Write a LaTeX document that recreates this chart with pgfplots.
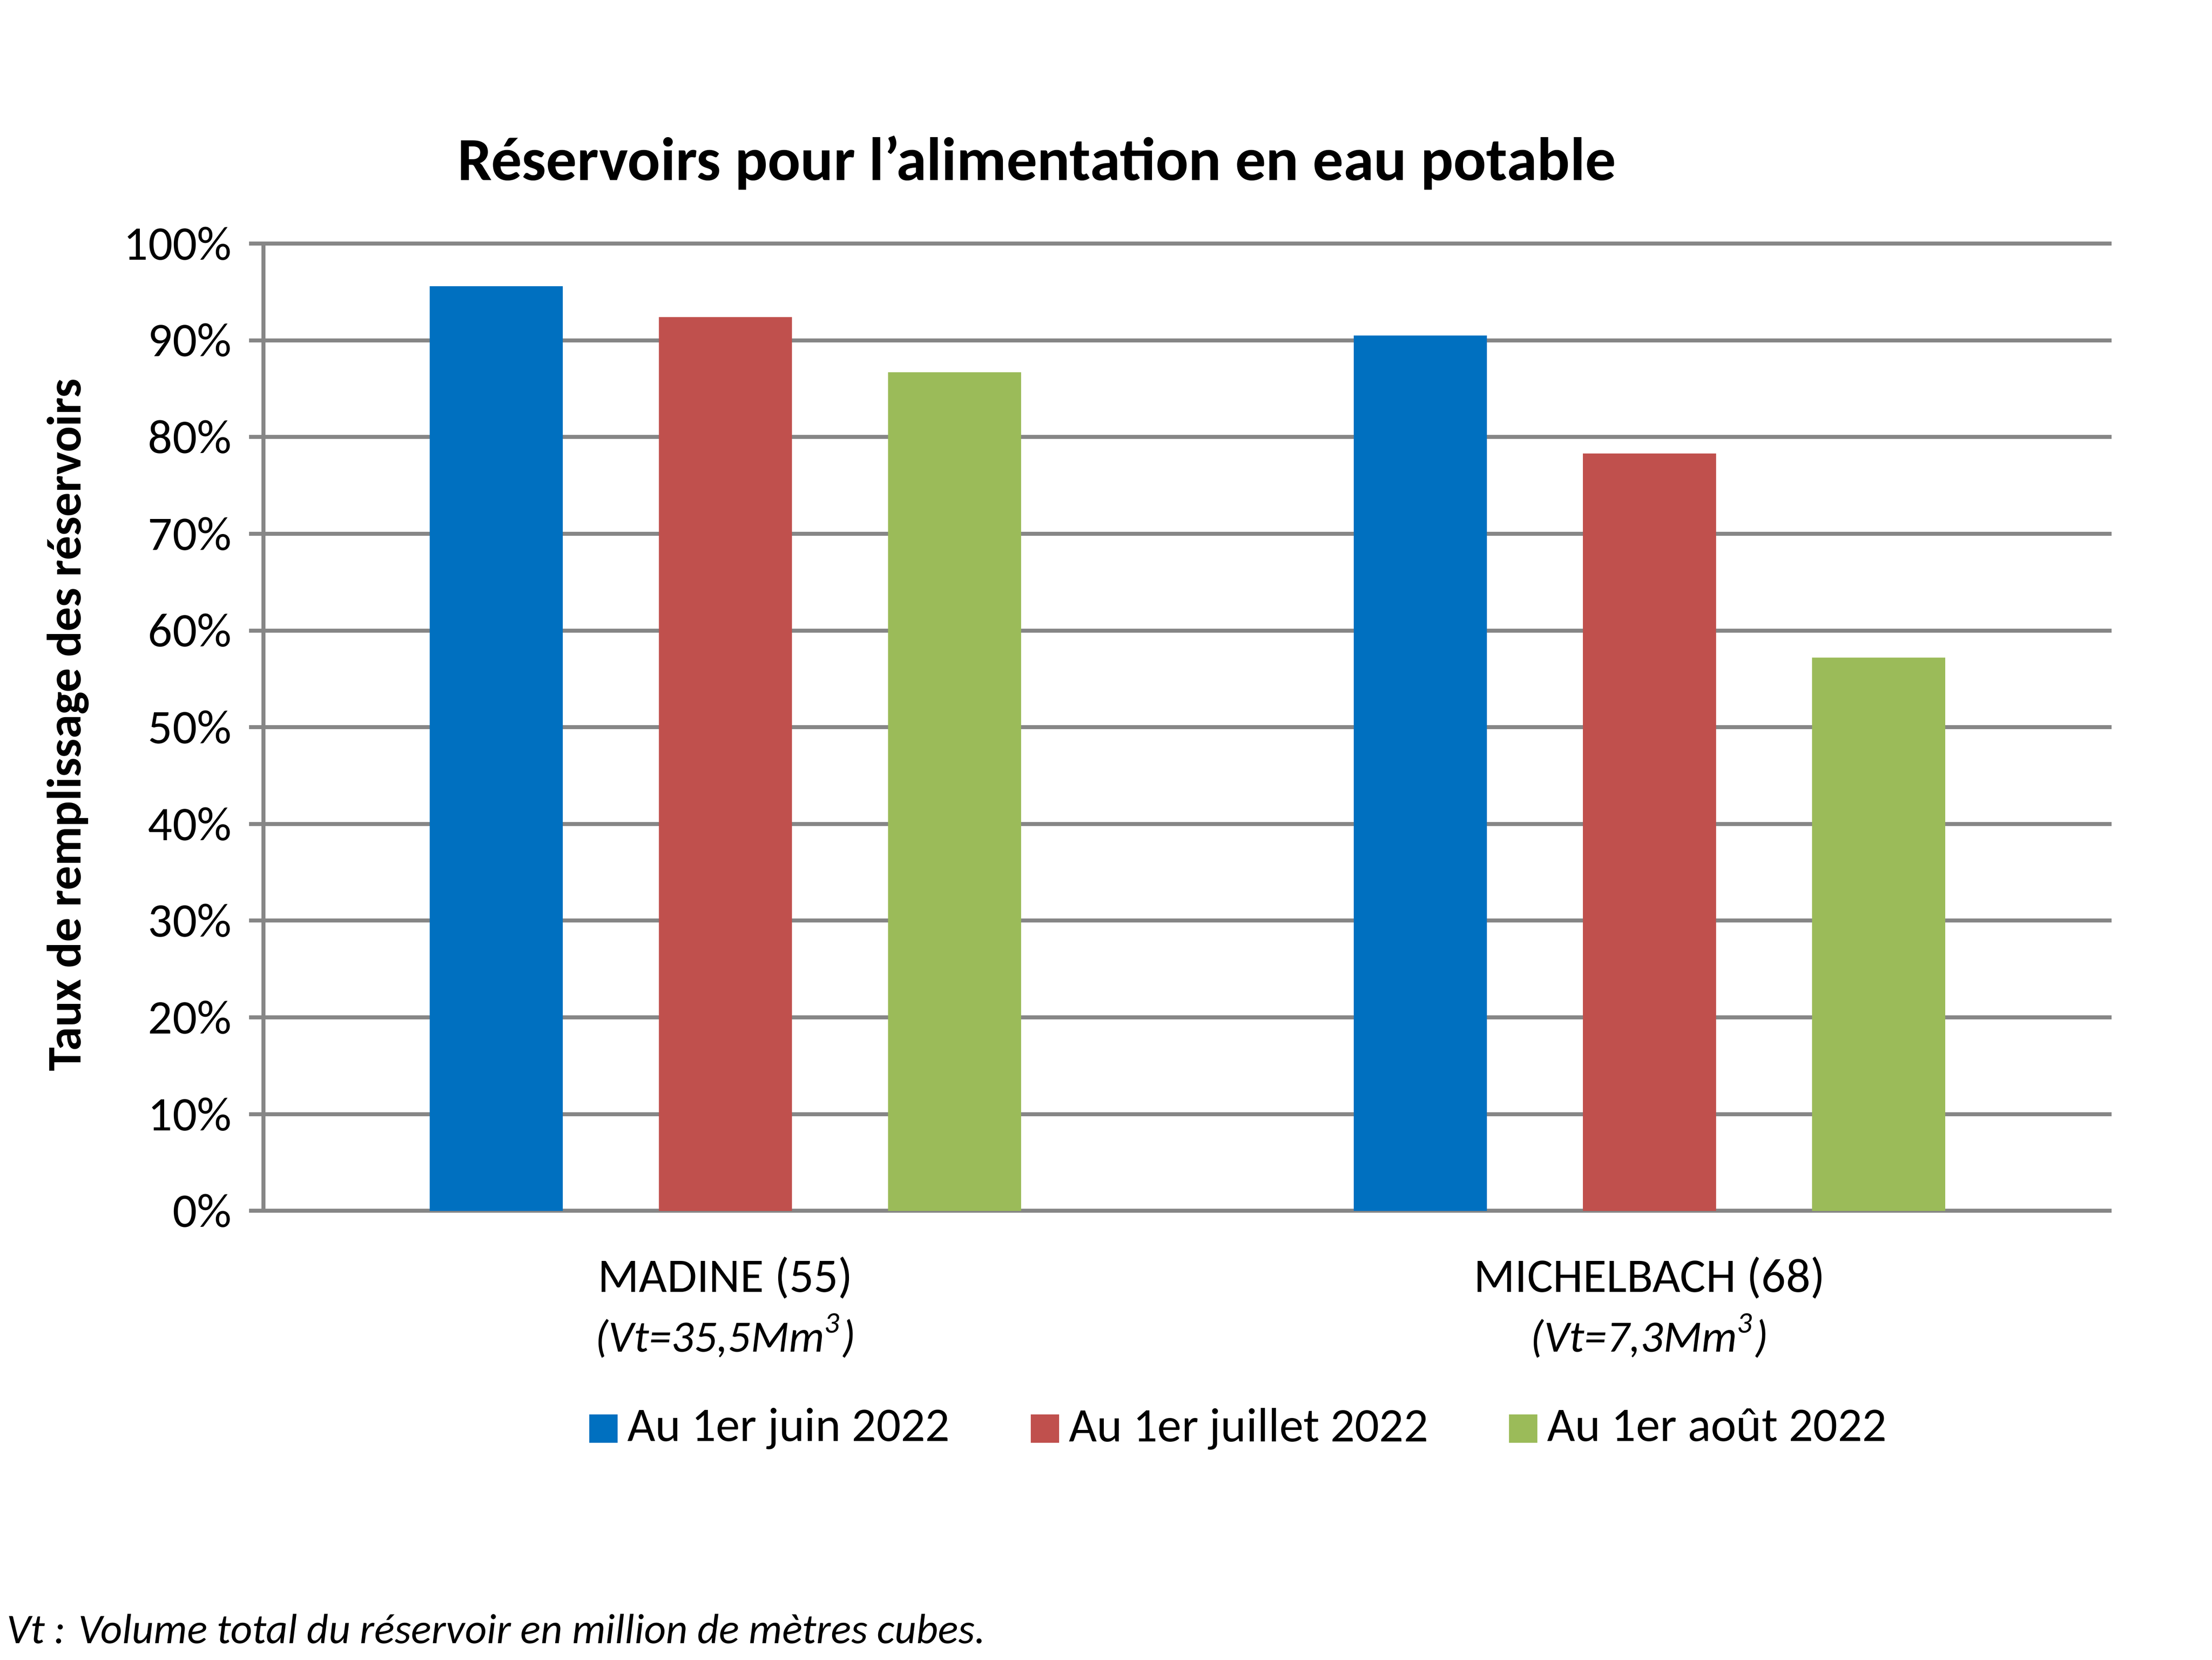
\documentclass[border=0pt]{standalone}
\usepackage{pgfplots}
\pgfplotsset{compat=1.18}
\usepackage{fontspec}
\setmainfont{Carlito}
\definecolor{cblue}{HTML}{0070C0}
\definecolor{cred}{HTML}{C0504D}
\definecolor{cgreen}{HTML}{9BBB59}
\definecolor{cgrid}{HTML}{868686}
\begin{document}
\begin{tikzpicture}
\useasboundingbox (-1.86cm,-3.17cm) rectangle (13.76cm,8.55cm);
\begin{axis}[
  at={(0,0)}, anchor=south west,
  scale only axis, width=13.05cm, height=6.83cm,
  xmin=-0.5, xmax=1.5, ymin=0, ymax=100,
  ybar, bar width=0.144, bar shift=0pt,
  axis line style={cgrid, line width=0.8pt},
  axis x line*=bottom, axis y line*=left,
  ymajorgrids, grid style={cgrid, line width=0.8pt},
  ytick={0,10,...,100},
  yticklabel={\pgfmathprintnumber{\tick}\%},
  /pgf/number format/assume math mode=true,
  yticklabel style={font=\fontsize{9.7pt}{11pt}\selectfont},
  ytick style={cgrid, line width=0.8pt},
  tick align=outside, major tick length=0.1cm,
  xtick={0,1},
  xticklabels={{MADINE (55)\\{\itshape\small (Vt=35,5Mm\textsuperscript{3})}},{MICHELBACH (68)\\{\itshape\small (Vt=7,3Mm\textsuperscript{3})}}},
  xticklabel style={align=center, font=\fontsize{9.7pt}{12pt}\selectfont, yshift=-0.1cm},
  x tick style={draw=none},
  extra x ticks={-0.5,0.5,1.5}, extra x tick labels={},
  extra x tick style={tick style={draw=cgrid, line width=0.8pt}, major grid style={draw=none}},
  legend style={draw=none, at={(0.53,-0.225)}, anchor=center, legend columns=3,
    font=\fontsize{9.7pt}{11pt}\selectfont, /tikz/every even column/.append style={column sep=0.5cm}},
  legend image code/.code={\fill[#1] (0cm,-0.1cm) rectangle (0.2cm,0.1cm);},
]
\addplot[fill=cblue, draw=none] coordinates {(-0.248,95.6) (0.752,90.5)};
\addplot[fill=cred, draw=none] coordinates {(0,92.4) (1,78.3)};
\addplot[fill=cgreen, draw=none] coordinates {(0.248,86.7) (1.248,57.2)};
\legend{Au 1er juin 2022, Au 1er juillet 2022, Au 1er août 2022}
\end{axis}
\node[font=\bfseries\fontsize{12.3pt}{14pt}\selectfont] at (5.46cm,7.40cm) {Réservoirs pour l'alimentation en eau potable};
\node[rotate=90, font=\bfseries\fontsize{9.7pt}{11pt}\selectfont] at (-1.38cm,3.43cm) {Taux de remplissage des réservoirs};
\node[anchor=west, inner sep=0pt, font=\itshape\fontsize{8.5pt}{10pt}\selectfont] at (-1.82cm,-2.95cm) {Vt : Volume total du réservoir en million de mètres cubes.};
\end{tikzpicture}
\end{document}
